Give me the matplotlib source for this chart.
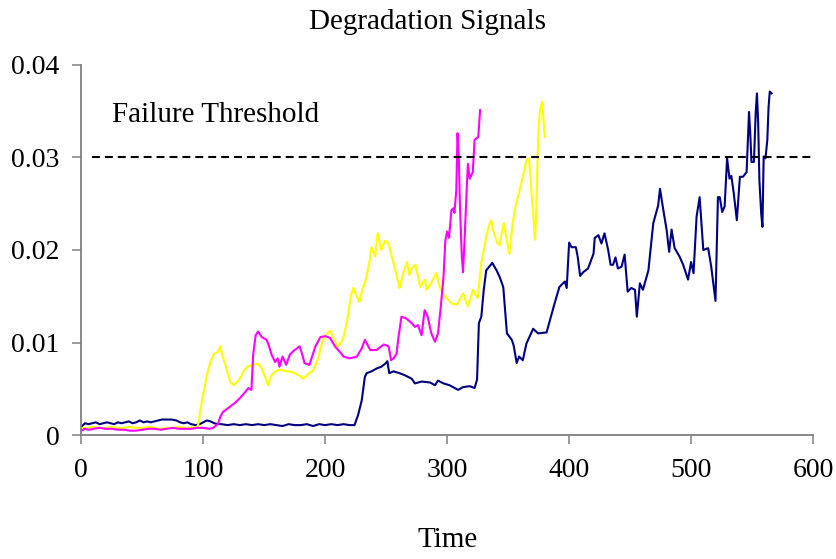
import matplotlib
matplotlib.use("Agg")
import matplotlib.pyplot as plt
import numpy as np

plt.rcParams['font.family'] = ['Liberation Serif', 'DejaVu Serif']

# yellow signal
yellow_t = [0, 5, 10, 15, 20, 25, 30, 35, 40, 45, 50, 55, 60, 65, 70, 75, 80, 85, 90, 95,
            96, 98, 100, 103, 106, 109, 112, 114, 116, 119, 122, 125, 128, 131, 133, 136,
            140, 145, 148, 151, 153, 156, 159, 163, 168, 171, 175, 179, 182, 186, 190, 194,
            198, 202, 204, 207, 210, 213, 215, 218, 221, 223, 226, 228, 231, 233, 236, 238,
            241, 243, 246, 249, 252, 254, 256, 259, 261, 264, 267, 269, 271, 274, 276, 278,
            280, 282, 283, 286, 289, 291, 294, 297, 301, 304, 308, 311, 313, 317, 319, 321,
            323, 325, 328, 330, 332, 334, 336, 338, 341, 343, 345, 346.5, 349, 351, 353.5,
            356, 359.5, 362, 365, 367, 369, 372, 373, 374.5, 376, 378, 379, 380]
yellow_v = [0.0008, 0.0008, 0.0009, 0.0008, 0.0008, 0.0009, 0.0008, 0.0008, 0.0009, 0.0008,
            0.0008, 0.0009, 0.0008, 0.0007, 0.0008, 0.0008, 0.0009, 0.0008, 0.0008, 0.0009,
            0.0012, 0.0030, 0.0045, 0.0065, 0.0080, 0.0088, 0.0090, 0.0096, 0.0085, 0.0072,
            0.0058, 0.0054, 0.0058, 0.0063, 0.0069, 0.0074, 0.0076, 0.0077, 0.0072, 0.0062,
            0.0054, 0.0065, 0.0069, 0.0071, 0.0069, 0.0069, 0.0067, 0.0064, 0.0061, 0.0066,
            0.0070, 0.0082, 0.0103, 0.0110, 0.0113, 0.0104, 0.0096, 0.0100, 0.0106, 0.0124,
            0.0150, 0.0159, 0.0150, 0.0144, 0.0160, 0.0166, 0.0185, 0.0203, 0.0193, 0.0218,
            0.0200, 0.0210, 0.0207, 0.0196, 0.0186, 0.0170, 0.0159, 0.0175, 0.0187, 0.0173,
            0.0180, 0.0184, 0.0172, 0.0160, 0.0165, 0.0168, 0.0157, 0.0162, 0.0170, 0.0175,
            0.0160, 0.0152, 0.0146, 0.0142, 0.0141, 0.0148, 0.0153, 0.0139, 0.0147, 0.0157,
            0.0152, 0.0148, 0.0186, 0.0200, 0.0214, 0.0225, 0.0232, 0.0220, 0.0208, 0.0205,
            0.0220, 0.0229, 0.0210, 0.0196, 0.0227, 0.0247, 0.0265, 0.0279, 0.0297, 0.0299,
            0.0265, 0.0211, 0.0240, 0.0319, 0.0351, 0.0360, 0.0340, 0.0322]

# magenta signal
magenta_t = [0, 3, 6, 10, 15, 20, 25, 30, 35, 40, 45, 50, 55, 60, 65, 70, 75, 80, 85, 90, 95,
             100, 105, 108, 110, 112, 114, 116, 119, 122, 126, 130, 134, 137, 139.5, 141, 143,
             145, 148, 152, 154, 156, 159, 161, 162.5, 165, 168, 171, 174, 177, 179, 181, 183,
             187, 190, 192, 196, 200, 204, 208, 212, 215, 220, 226, 230, 232.5, 235, 237, 242,
             245, 248, 252, 254, 256, 258.5, 260, 262.5, 266.5, 271, 273.5, 276, 279, 281.5,
             284, 287, 290, 292.5, 295, 297, 298.5, 300, 301.5, 303.5, 305, 306, 307.5, 308.5,
             309.5, 310.5, 312, 313, 314.5, 316, 317, 318.5, 321, 322.5, 325.5, 327]
magenta_v = [0.0005, 0.0007, 0.0006, 0.0007, 0.0008, 0.0007, 0.0007, 0.0006, 0.0006, 0.0005,
             0.0005, 0.0006, 0.0007, 0.0007, 0.0006, 0.0007, 0.0008, 0.0007, 0.0007, 0.0007,
             0.0008, 0.0008, 0.0007, 0.0008, 0.0010, 0.0012, 0.0020, 0.0025, 0.0028, 0.0031,
             0.0035, 0.0040, 0.0046, 0.0051, 0.0049, 0.0088, 0.0108, 0.0112, 0.0106, 0.0103,
             0.0096, 0.0087, 0.0079, 0.0083, 0.0074, 0.0085, 0.0076, 0.0087, 0.0091, 0.0094,
             0.0096, 0.0088, 0.0078, 0.0076, 0.0088, 0.0096, 0.0106, 0.0107, 0.0105, 0.0096,
             0.0090, 0.0085, 0.0083, 0.0085, 0.0094, 0.0103, 0.0097, 0.0092, 0.0092, 0.0095,
             0.0098, 0.0096, 0.0081, 0.0083, 0.0088, 0.0105, 0.0128, 0.0126, 0.0121, 0.0117,
             0.0119, 0.0108, 0.0135, 0.0128, 0.0110, 0.0101, 0.0110, 0.0142, 0.0171, 0.0210,
             0.0220, 0.0213, 0.0243, 0.0245, 0.0240, 0.0265, 0.0326, 0.0301, 0.0247, 0.0193,
             0.0176, 0.0218, 0.0265, 0.0293, 0.0277, 0.0284, 0.0319, 0.0322, 0.0351]

# navy signal
navy_t = [0, 3, 6, 9, 12, 15, 18, 21, 24, 27, 30, 33, 36, 39, 42, 45, 48, 51, 54, 57, 60, 63,
          66, 70, 74, 78, 81, 84, 87, 90, 94, 97, 100, 103, 106, 109, 112, 115, 120, 125, 130,
          135, 140, 145, 150, 155, 160, 165, 170, 175, 180, 185, 190, 195, 200, 205, 210, 215,
          220, 224, 227, 230, 232.5, 234, 238, 242, 246, 249, 251, 252.5, 256, 261, 265, 271,
          273.5, 279, 286, 290, 292.5, 297, 302, 309, 313, 318.5, 322.5, 324.5, 326, 328, 330,
          332, 334.5, 337, 340.5, 343, 346, 349, 353, 354.5, 357, 359, 362, 365, 370.5, 374.5,
          381.5, 384, 388, 392, 396.5, 398, 400, 402, 405.5, 407, 409, 411.5, 415.5, 420, 421,
          424, 426.5, 429, 432, 434, 436, 438, 440, 443, 445.5, 448, 451, 454, 455.5, 458,
          460.5, 465, 469, 473, 474.5, 477, 480, 482, 484, 486.5, 490.5, 493.5, 497.5, 500,
          502, 504.5, 507, 510, 514, 516.5, 520, 522, 523.5, 525.5, 527.5, 529.5, 531.5, 533,
          535, 537.5, 540, 542.5, 545.5, 547.5, 548.5, 549.5, 551.5, 553, 554, 555, 556, 557.5,
          558.5, 559.5, 561, 562.5, 563.5, 564.5, 566]
navy_v = [0.0009, 0.0013, 0.0012, 0.0013, 0.0014, 0.0012, 0.0013, 0.0014, 0.0013, 0.0012,
          0.0014, 0.0013, 0.0014, 0.0015, 0.0013, 0.0014, 0.0016, 0.0014, 0.0015, 0.0014,
          0.0015, 0.0016, 0.0017, 0.0017, 0.0017, 0.0016, 0.0014, 0.0013, 0.0014, 0.0012,
          0.0011, 0.0012, 0.0014, 0.0016, 0.0015, 0.0013, 0.0012, 0.0012, 0.0011, 0.0012,
          0.0011, 0.0012, 0.0011, 0.0012, 0.0011, 0.0012, 0.0011, 0.0010, 0.0012, 0.0011,
          0.0011, 0.0012, 0.0010, 0.0012, 0.0011, 0.0012, 0.0011, 0.0012, 0.0011, 0.0011,
          0.0022, 0.0038, 0.0063, 0.0067, 0.0069, 0.0072, 0.0074, 0.0077, 0.0080, 0.0067,
          0.0069, 0.0067, 0.0065, 0.0061, 0.0056, 0.0058, 0.0057, 0.0054, 0.0059, 0.0056,
          0.0054, 0.0049, 0.0052, 0.0053, 0.0051, 0.0060, 0.0121, 0.0128, 0.0157, 0.0178,
          0.0182, 0.0186, 0.0178, 0.0171, 0.0160, 0.0110, 0.0103, 0.0097, 0.0078, 0.0085,
          0.0081, 0.0099, 0.0115, 0.0110, 0.0111, 0.0123, 0.0142, 0.0160, 0.0166, 0.0159,
          0.0208, 0.0203, 0.0203, 0.0193, 0.0172, 0.0176, 0.0180, 0.0196, 0.0213, 0.0216,
          0.0207, 0.0218, 0.0200, 0.0184, 0.0184, 0.0192, 0.0180, 0.0182, 0.0195, 0.0155,
          0.0159, 0.0157, 0.0128, 0.0164, 0.0157, 0.0178, 0.0229, 0.0248, 0.0266, 0.0245,
          0.0221, 0.0198, 0.0222, 0.0202, 0.0193, 0.0184, 0.0168, 0.0187, 0.0175, 0.0236,
          0.0257, 0.0200, 0.0202, 0.0182, 0.0145, 0.0257, 0.0257, 0.0241, 0.0247, 0.0299,
          0.0277, 0.0280, 0.0261, 0.0232, 0.0279, 0.0279, 0.0284, 0.0349, 0.0326, 0.0295,
          0.0295, 0.0349, 0.0369, 0.0337, 0.0275, 0.0239, 0.0225, 0.0301, 0.0299, 0.0319,
          0.0354, 0.0371, 0.0369]

threshold = 0.03

fig = plt.figure(figsize=(8.37, 5.59), dpi=100)
ax = fig.add_axes([0.0971, 0.2213, 0.8743, 0.663])

ax.plot(navy_t, navy_v, color='#000080', lw=1.5)
ax.plot(yellow_t, yellow_v, color='#FFFF00', lw=1.5)
ax.plot(magenta_t, magenta_v, color='#FF00FF', lw=1.5)
ax.hlines(threshold, 8.5, 600, colors='black', lw=1.5, linestyles=(0, (3.8, 2.4)))
ax.text(25, 0.0346, 'Failure Threshold', fontsize=21, va='center', ha='left')

ax.set_xlim(0, 600)
ax.set_ylim(0, 0.04)
ax.set_xticks([0, 100, 200, 300, 400, 500, 600])
ax.set_yticks([0, 0.01, 0.02, 0.03, 0.04])
ax.set_yticklabels(['0', '0.01', '0.02', '0.03', '0.04'])
for s in ['top', 'right']:
    ax.spines[s].set_visible(False)
for s in ['left', 'bottom']:
    ax.spines[s].set_color('#808080')
    ax.spines[s].set_linewidth(1.3)
ax.tick_params(axis='both', direction='out', length=6.5, width=1.1, color='#808080',
               labelsize=20, pad=9)
ax.tick_params(axis='x', pad=9.5)
fig.text(428 / 837, 1 - 22 / 559, 'Degradation Signals', fontsize=21, ha='center', va='center')
ax.set_xlabel('Time', fontsize=21, labelpad=32)

fig.savefig('out.png', dpi=100)
